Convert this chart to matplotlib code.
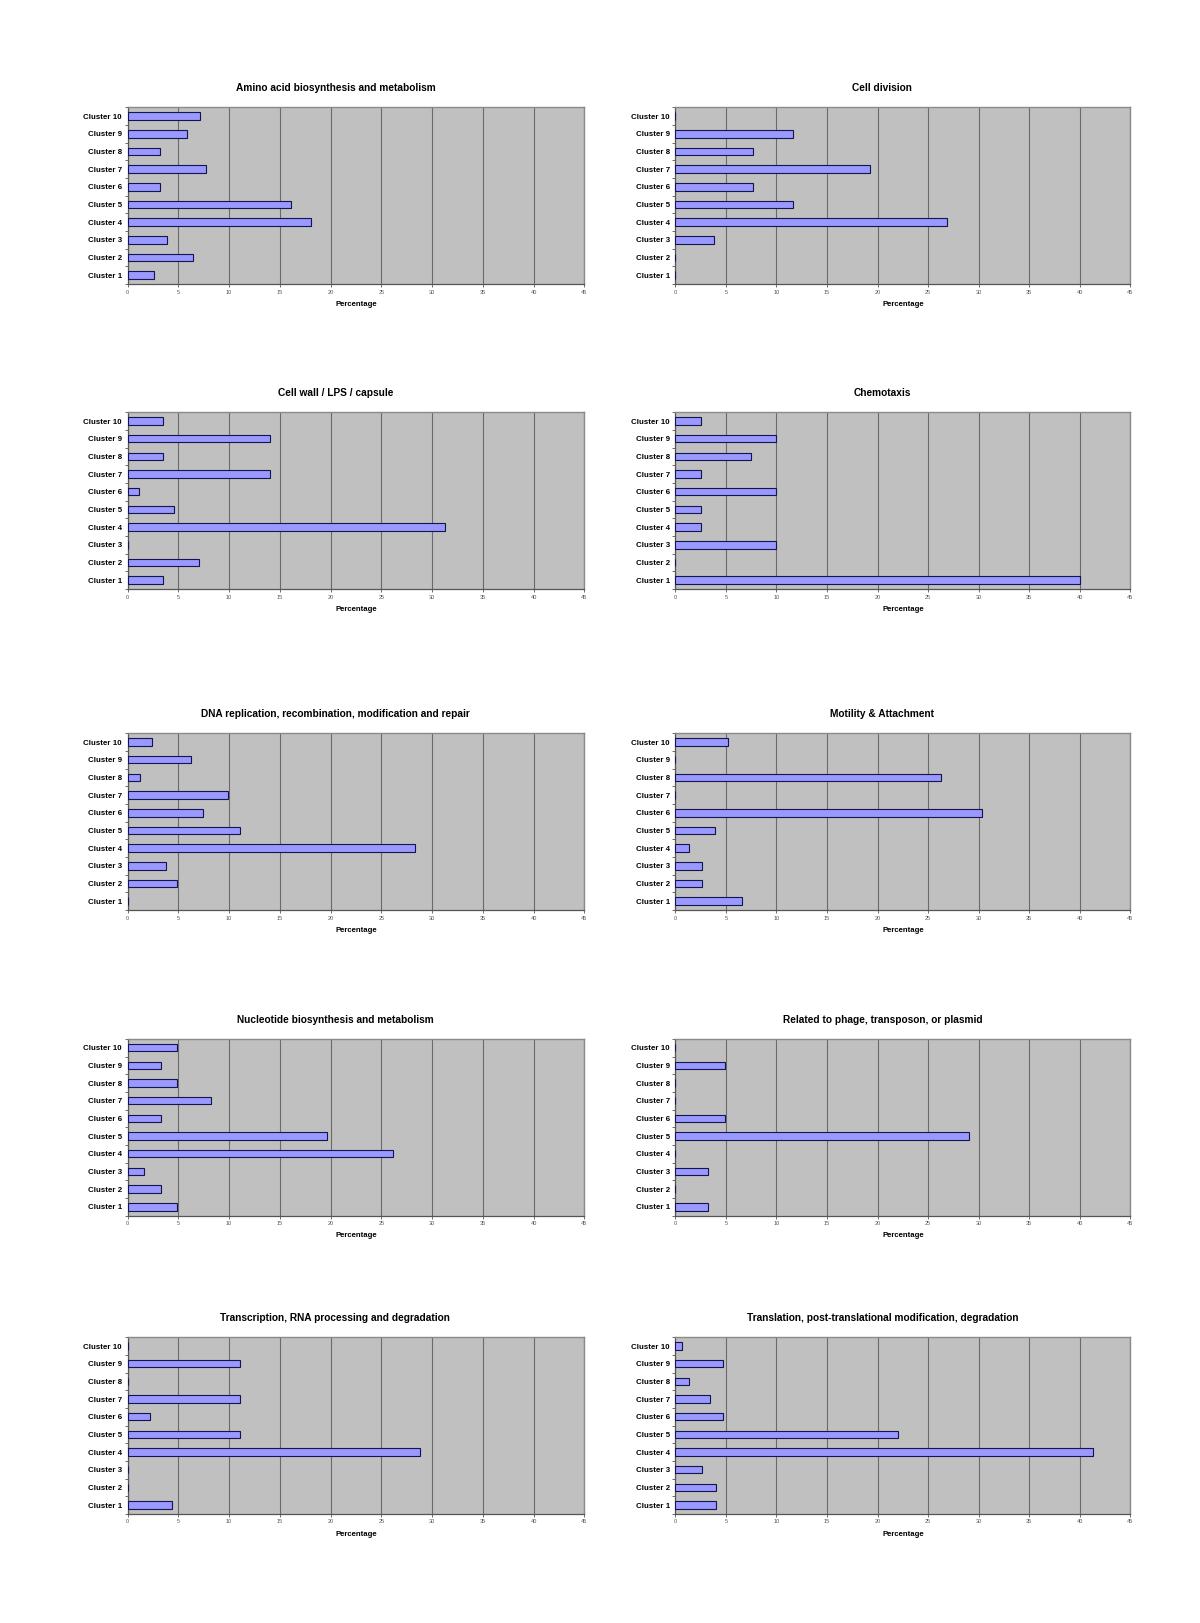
import matplotlib
matplotlib.use("Agg")
import matplotlib.pyplot as plt
import numpy as np

plt.rcParams['font.family'] = ['Liberation Sans', 'DejaVu Sans']

clusters = ["Cluster %d" % i for i in range(1, 11)]

# values per functional category, Cluster 1 .. Cluster 10
amino_acid = [2.6, 6.4, 3.9, 18.1, 16.1, 3.2, 7.7, 3.2, 5.8, 7.1]
cell_division = [0, 0, 3.85, 26.9, 11.6, 7.7, 19.2, 7.7, 11.6, 0]
cell_wall = [3.5, 7.0, 0, 31.3, 4.6, 1.15, 14.0, 3.5, 14.0, 3.5]
chemotaxis = [40, 0, 10, 2.5, 2.5, 10, 2.5, 7.5, 10, 2.5]
dna_repl = [0, 4.9, 3.75, 28.35, 11.1, 7.4, 9.9, 1.25, 6.2, 2.4]
motility = [6.6, 2.65, 2.65, 1.35, 3.95, 30.3, 0, 26.3, 0, 5.25]
nucleotide = [4.9, 3.3, 1.6, 26.15, 19.65, 3.3, 8.2, 4.9, 3.3, 4.9]
phage = [3.25, 0, 3.25, 0, 29.0, 4.9, 0, 0, 4.9, 0]
transcription = [4.4, 0, 0, 28.8, 11.1, 2.2, 11.1, 0, 11.1, 0]
translation = [4.0, 4.0, 2.65, 41.3, 22.0, 4.75, 3.4, 1.35, 4.75, 0.7]

titles = [
    "Amino acid biosynthesis and metabolism",
    "Cell division",
    "Cell wall / LPS / capsule",
    "Chemotaxis",
    "DNA replication, recombination, modification and repair",
    "Motility & Attachment",
    "Nucleotide biosynthesis and metabolism",
    "Related to phage, transposon, or plasmid",
    "Transcription, RNA processing and degradation",
    "Translation, post-translational modification, degradation",
]
series = [amino_acid, cell_division, cell_wall, chemotaxis, dna_repl,
          motility, nucleotide, phage, transcription, translation]

fig = plt.figure(figsize=(12, 16.23), dpi=100)

col_x = [0.1064, 0.5628]
col_w = [0.3805, 0.3792]
row_bottom = [0.825, 0.6371, 0.4393, 0.2510, 0.0672]
h = 0.1089

y = np.arange(len(clusters))
for i, (title, vals) in enumerate(zip(titles, series)):
    r, c = divmod(i, 2)
    ax = fig.add_axes([col_x[c], row_bottom[r], col_w[c], h])
    ax.set_facecolor('#c0c0c0')
    ax.barh(y, vals, height=0.42, color='#9999ff', edgecolor='#141450',
            linewidth=0.8, zorder=3)
    ax.set_xlim(0, 45)
    ax.set_ylim(-0.5, 9.5)
    ax.set_xticks(np.arange(0, 46, 5))
    ax.xaxis.grid(True, color='#6a6a6a', linewidth=0.8, zorder=1)
    ax.set_yticks(y)
    ax.set_yticklabels(clusters, fontsize=5.7, fontweight='bold')
    ax.set_yticks(np.arange(-0.5, 10, 1), minor=True)
    ax.tick_params(axis='y', which='major', length=0, pad=4)
    ax.tick_params(axis='y', which='minor', length=2, width=0.6, color='#555555')
    ax.tick_params(axis='x', length=2, width=0.6, labelsize=4, labelcolor='#555555',
                   color='#555555', pad=2)
    for s in ['top', 'right']:
        ax.spines[s].set_color('#8a8a8a')
        ax.spines[s].set_linewidth(1.0)
    for s in ['left', 'bottom']:
        ax.spines[s].set_color('#555555')
        ax.spines[s].set_linewidth(0.9)
    ax.set_title(title, fontsize=7.3, fontweight='bold', pad=11.5, x=0.455)
    ax.set_xlabel('Percentage', fontsize=5.6, fontweight='bold', labelpad=4.5)

fig.savefig('out.png', dpi=100, facecolor='white')
